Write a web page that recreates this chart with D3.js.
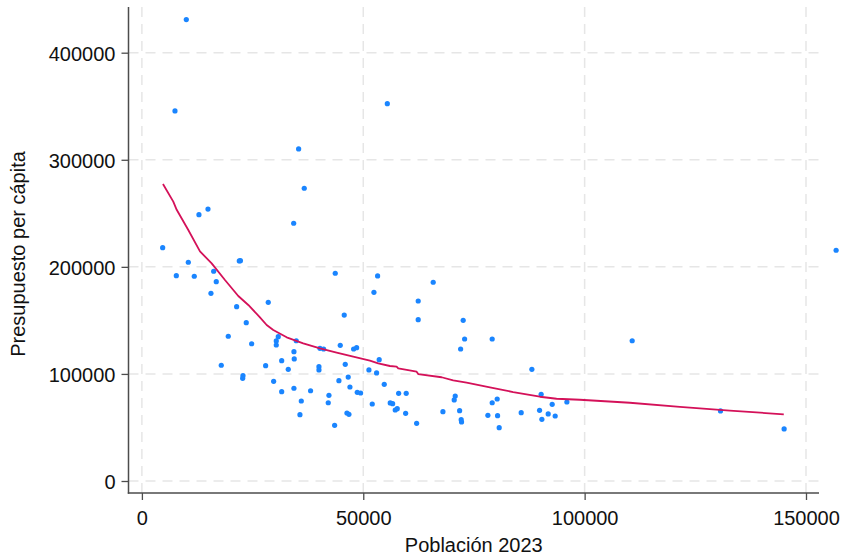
<!DOCTYPE html>
<html>
<head>
<meta charset="utf-8">
<script src="https://cdn.jsdelivr.net/npm/d3@7/dist/d3.min.js"></script>
<style>
  html, body { margin: 0; padding: 0; background: #fff; }
  svg { display: block; font-family: "Liberation Sans", Arial, Helvetica, sans-serif; }
</style>
</head>
<body>
<svg id="chart" width="841" height="556"></svg>
<script>
// Municipal population (2023) and budget per inhabitant
const poblacion = [
  10030, 7474, 35400, 36670, 12890, 14925, 34280, 4690, 10480, 7770,
  11830, 22000, 22250, 16210, 16800, 15600, 21400, 23570, 19510, 24790,
  17930, 22830, 22760, 28540, 43670, 45700, 30350, 30350, 30800, 34860,
  34340, 34410, 40215, 41050, 44800, 47820, 48500, 51280, 27950, 31570,
  33060, 39990, 39990, 45930, 29760, 31570, 34340, 38100, 36000, 35700,
  42250, 42090, 44500, 46600, 46990, 48640, 49400, 43530, 46310, 46760,
  53240, 52410, 53600, 53010, 52030, 65800, 62410, 62410, 72570, 72890,
  71990, 79120, 54740, 57990, 59700, 56090, 56630, 57220, 57670, 59570,
  62050, 70770, 70540, 67990, 71760, 72120, 72200, 79120, 80250, 78150,
  80340, 80700, 88080, 90180, 92670, 95990, 89820, 91770, 93350, 90340,
  85670, 110740, 130690, 145060, 156800, 55430
];
const presupuesto = [
  430900, 345600, 310100, 273400, 248700, 254000, 240700, 217900, 204300, 191750,
  191200, 205500, 205800, 195900, 186200, 175300, 162800, 147900, 135200, 128200,
  108100, 98350, 95900, 166900, 194000, 155000, 130800, 127000, 134800, 131000,
  120800, 114000, 123900, 123300, 126700, 123300, 124500, 103700, 107700, 112400,
  104300, 106800, 103700, 109000, 93100, 83400, 86600, 84300, 74700, 61900,
  80000, 73100, 93700, 97100, 87800, 82800, 82200, 52000, 63500, 62300,
  191500, 176200, 113300, 100900, 71900, 185600, 168100, 150700, 150100, 132600,
  123300, 132600, 90300, 81900, 81900, 72900, 72200, 66300, 67500, 63200,
  53900, 79400, 75700, 64700, 65700, 57300, 55100, 73100, 76600, 61300,
  61000, 49800, 104300, 81000, 71600, 73800, 66000, 62600, 60700, 57600,
  63800, 131000, 65400, 48600, 215500, 352400
];

// Smoothed trend (lowess) of budget per inhabitant on population
const suaveX = [
  4760, 7090, 7860, 10480, 13120, 15760, 18760, 21770, 24030, 26510,
  28180, 29670, 32700, 36440, 40220, 43990, 47730, 51500, 53380, 56020,
  57530, 57900, 62050, 62410, 67690, 70310, 73340, 78600, 83860, 89890,
  93660, 98920, 110210, 121500, 132790, 144980
];
const suaveY = [
  277400, 260900, 253300, 234400, 214400, 203300, 187700, 172800, 164400, 153500,
  145700, 141000, 134200, 128600, 123800, 119800, 116100, 112400, 109900, 107400,
  106800, 105100, 102100, 99900, 96900, 93900, 91800, 87500, 83100, 78700,
  76800, 75900, 73100, 69300, 65700, 62300
];

const xTicks = [0, 50000, 100000, 150000];
const yTicks = [0, 100000, 200000, 300000, 400000];

const tituloX = "Población 2023";
const tituloY = "Presupuesto per cápita";

const svg = d3.select("#chart");

const frame = { left: 128.5, right: 819, top: 7, bottom: 493 };

const x = d3.scaleLinear().domain([0, 150000]).range([141.9, 806]);
const y = d3.scaleLinear().domain([0, 400000]).range([481, 52.7]);

const gridColor = "#e6e6e6";
const axisColor = "#4d4d4d";
const fmt = d3.format("d");

// Dashed grid
const grid = svg.append("g");
grid.selectAll("line.gy").data(yTicks).join("line")
  .attr("x1", frame.left).attr("x2", frame.right)
  .attr("y1", d => y(d)).attr("y2", d => y(d))
  .attr("stroke", gridColor).attr("stroke-width", 1.5)
  .attr("stroke-dasharray", "10,7");
grid.selectAll("line.gx").data(xTicks).join("line")
  .attr("y1", frame.top).attr("y2", frame.bottom)
  .attr("x1", d => x(d)).attr("x2", d => x(d))
  .attr("stroke", gridColor).attr("stroke-width", 1.5)
  .attr("stroke-dasharray", "10,7");

// Axes
const yAxis = svg.append("g")
  .attr("transform", `translate(${frame.left},0)`)
  .call(d3.axisLeft(y).tickValues(yTicks).tickFormat(fmt).tickSize(7).tickPadding(6));
const xAxis = svg.append("g")
  .attr("transform", `translate(0,${frame.bottom})`)
  .call(d3.axisBottom(x).tickValues(xTicks).tickFormat(fmt).tickSize(7).tickPadding(11));

[yAxis, xAxis].forEach(g => {
  g.select(".domain").remove();
  g.selectAll(".tick line").attr("stroke", axisColor).attr("stroke-width", 1.3);
  g.selectAll(".tick text")
    .attr("fill", "#111")
    .style("font-size", "20px")
    .style("font-family", "'Liberation Sans', Arial, Helvetica, sans-serif");
});
yAxis.selectAll(".tick text").attr("dy", "0.37em");

svg.append("line")
  .attr("x1", frame.left).attr("x2", frame.left)
  .attr("y1", frame.top).attr("y2", frame.bottom + 0.7)
  .attr("stroke", axisColor).attr("stroke-width", 1.5);
svg.append("line")
  .attr("x1", frame.left - 0.7).attr("x2", frame.right)
  .attr("y1", frame.bottom).attr("y2", frame.bottom)
  .attr("stroke", axisColor).attr("stroke-width", 1.5);

// Points
const puntos = poblacion.map((p, i) => ({ p, v: presupuesto[i] }));
svg.append("g").selectAll("circle").data(puntos).join("circle")
  .attr("cx", d => x(d.p))
  .attr("cy", d => y(d.v))
  .attr("r", 2.6)
  .attr("fill", "#1A85FF");

// Smoothed line
const curva = suaveX.map((p, i) => [p, suaveY[i]]);
svg.append("path")
  .datum(curva)
  .attr("fill", "none")
  .attr("stroke", "#D41159")
  .attr("stroke-width", 1.8)
  .attr("stroke-linejoin", "round")
  .attr("d", d3.line().x(d => x(d[0])).y(d => y(d[1])));

// Titles
svg.append("text")
  .attr("x", (frame.left + frame.right) / 2)
  .attr("y", 552)
  .attr("text-anchor", "middle")
  .attr("fill", "#111")
  .style("font-size", "20px")
  .text(tituloX);

svg.append("text")
  .attr("transform", `translate(25,${(frame.top + frame.bottom) / 2 + 4}) rotate(-90)`)
  .attr("text-anchor", "middle")
  .attr("fill", "#111")
  .style("font-size", "20px")
  .text(tituloY);
</script>
</body>
</html>
